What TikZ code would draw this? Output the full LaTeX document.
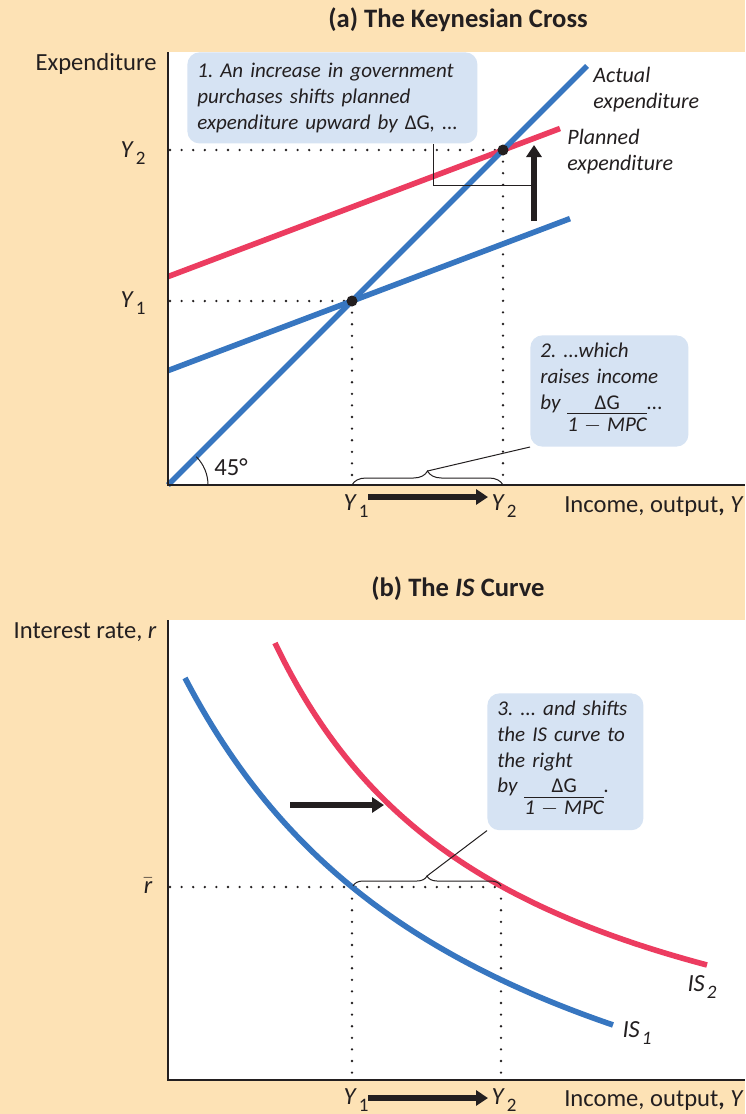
\documentclass[tikz,border=0pt]{standalone}
\usepackage{fontspec}
\setmainfont{Carlito}
\usetikzlibrary{arrows.meta,decorations.pathreplacing,calc}
\definecolor{tanbg}{RGB}{253,226,181}
\definecolor{cblue}{RGB}{214,227,243}
\definecolor{lblue}{RGB}{55,118,192}
\definecolor{lred}{RGB}{236,60,96}
\definecolor{ink}{RGB}{35,31,32}
\newcommand\ysub[2]{\textit{#1}\kern1pt\raisebox{-0.6ex}{\fontsize{9.5}{10}\selectfont #2}}
\newcommand\frc{\renewcommand\arraystretch{0.95}\begin{tabular}[t]{@{}c@{}}{\upshape ΔG}\\[-1.5pt]\hline\rule{0pt}{8.5pt}1\hspace{3pt}$-$\hspace{3pt}MPC\end{tabular}}
\begin{document}
\frenchspacing
\begin{tikzpicture}[x=0.5pt,y=-0.5pt,
  ax/.style={line width=0.8pt, draw=ink},
  curveB/.style={line width=2.8pt, draw=lblue},
  curveR/.style={line width=2.8pt, draw=lred},
  dotline/.style={line width=1.3pt, dash pattern=on 0pt off 5.8pt, line cap=round, draw=ink},
  dot/.style={circle, fill=ink, minimum size=5.5pt, inner sep=0pt},
  callout/.style={fill=cblue, rounded corners=6pt, align=left, inner xsep=5pt, inner ysep=4pt,
     font=\itshape\fontsize{10.5}{12.8}\selectfont, text=ink},
  lab/.style={text=ink, font=\fontsize{12.3}{14}\selectfont, inner sep=0pt},
  ilab/.style={text=ink, font=\itshape\fontsize{11}{12.75}\selectfont, inner sep=0pt, align=left},
  ttl/.style={text=ink, font=\bfseries\fontsize{13.3}{15}\selectfont, inner sep=0pt},
  bigarrow/.style={line width=2.6pt, draw=ink, -{Triangle[length=6pt,width=7.5pt]}},
  thinl/.style={line width=0.5pt, draw=ink}]
\useasboundingbox (0,0) rectangle (745,1114);
\fill[tanbg] (0,0) rectangle (745,1114);
\fill[white] (168,52) rectangle (745,485);
\fill[white] (168,620) rectangle (745,1080);

% ---------------- Panel (a)
\node[ttl, anchor=base] (ta) at (458,27) {(a) The Keynesian Cross};
\node[lab, anchor=base east] (ey) at (157,70) {Expenditure};

\coordinate (O1) at (168,485);
\coordinate (xa) at (745,485);
\coordinate (ya) at (168,52);

\coordinate (E1) at (352,301);
\coordinate (E2) at (503,150);
\coordinate (h1) at (170,301);
\coordinate (h2) at (170,150);
\coordinate (v1) at (352,485);
\coordinate (v2) at (503,485);
\draw[dotline] (h1) -- (E1);
\draw[dotline] (h2) -- (E2);
\draw[dotline] (E1) -- (v1);
\draw[dotline] (E2) -- (v2);

\coordinate (a45s) at (168,485);
\coordinate (a45e) at (587,66);
\coordinate (p1s) at (168,370.6);
\coordinate (p1e) at (570,218.6);
\coordinate (p2s) at (168,276.6);
\coordinate (p2e) at (560,128.5);
\draw[curveR] (p2s) -- (p2e);
\draw[curveB] (p1s) -- (p1e);
\draw[curveB] (a45s) -- (a45e);

\draw[ax] (ya) -- (O1) -- (xa);
\draw[thinl] (208,485) arc[start angle=0, end angle=45, radius=20pt];
\node[lab, anchor=base] (deg) at (231,475) {45°};

\node[dot] (d1) at (E1) {};
\node[dot] (d2) at (E2) {};

\node[lab, anchor=east] (ly2) at (146,153) {\ysub{Y}{2}};
\node[lab, anchor=east] (ly1) at (146,303) {\ysub{Y}{1}};

\node[ilab, anchor=north west] (act) at (593,67) {Actual\\expenditure};
\node[ilab, anchor=north west] (pln) at (567,129) {Planned\\expenditure};

\node[callout, text width=135pt, minimum height=45.5pt, anchor=north west] (c1) at (187,52)
  {1. An increase in government\\purchases shifts planned\\expenditure upward by {\upshape ΔG}, ...};

\coordinate (up1) at (534,221);
\coordinate (up2) at (534,145);
\draw[bigarrow] (up1) -- (up2);
\coordinate (k1) at (433,185);
\coordinate (k2) at (534,185);
\draw[thinl] (c1.south -| k1) -- (k1) -- (k2);

\node[callout, text width=69pt, minimum height=52.5pt, anchor=north west] (c2) at (530,335)
  {2. ...which\\raises income\\by \frc...};
\draw[thinl, decorate, decoration={brace, amplitude=7pt}] (v1) -- (v2);
\coordinate (bt1) at (427.5,471);
\draw[thinl] (bt1) -- (c2.south west);

\node[lab, anchor=base] (y1b) at (356,510) {\ysub{Y}{1}};
\node[lab, anchor=base] (y2b) at (504,510) {\ysub{Y}{2}};
\coordinate (ar1) at (368,497);
\coordinate (ar2) at (488,497);
\draw[bigarrow] (ar1) -- (ar2);
\node[lab, anchor=base east] (inc1) at (744,512) {Income, output\textbf{,} \textit{Y}};

% ---------------- Panel (b)
\node[ttl, anchor=base] (tb) at (458,596) {(b) The \textit{IS} Curve};
\node[lab, anchor=base east] (ir) at (157,638) {Interest rate, \textit{r}};

\coordinate (O2) at (168,1080);
\coordinate (xb) at (745,1080);
\coordinate (yb) at (168,620);

\coordinate (E3) at (352,887);
\coordinate (E4) at (501,887);
\coordinate (h3) at (170,887);
\coordinate (v3) at (352,1080);
\coordinate (v4) at (501,1080);
\draw[dotline] (h3) -- (E4);
\draw[dotline] (E3) -- (v3);
\draw[dotline] (E4) -- (v4);

\draw[curveB] plot[domain=185:613, samples=80] (\x, {1278.8 - 1881.21/((\x+128.1)/100)});
\draw[curveR] plot[domain=275:707, samples=80] (\x, {1143.5 - 1198.72/((\x-35.5)/100)});

\draw[ax] (yb) -- (O2) -- (xb);

\node[lab, anchor=base] (rbar) at (148,893) {$\bar{\mbox{\itshape r}}$};

\coordinate (ab1) at (290,805);
\coordinate (ab2) at (384,805);
\draw[bigarrow] (ab1) -- (ab2);

\node[callout, text width=68pt, minimum height=66.5pt, anchor=north west] (c3) at (487,693)
  {3. ... and shifts\\the IS curve to\\the right\\by \frc.};
\coordinate (b3s) at (353,886);
\coordinate (b3e) at (501,886);
\draw[thinl, decorate, decoration={brace, amplitude=5pt}] (b3s) -- (b3e);
\coordinate (bt2) at (427,876);
\draw[thinl] (bt2) -- (c3.south west);

\node[lab, font=\itshape\fontsize{12.3}{14}\selectfont] (is2) at (702,987) {\ysub{IS}{2}};
\node[lab, font=\itshape\fontsize{12.3}{14}\selectfont] (is1) at (637,1033) {\ysub{IS}{1}};

\node[lab, anchor=base] (y1c) at (356,1104) {\ysub{Y}{1}};
\node[lab, anchor=base] (y2c) at (504,1104) {\ysub{Y}{2}};
\coordinate (ac1) at (368,1098);
\coordinate (ac2) at (488,1098);
\draw[bigarrow] (ac1) -- (ac2);
\node[lab, anchor=base east] (inc2) at (744,1106) {Income, output\textbf{,} \textit{Y}};
\end{tikzpicture}
\end{document}
